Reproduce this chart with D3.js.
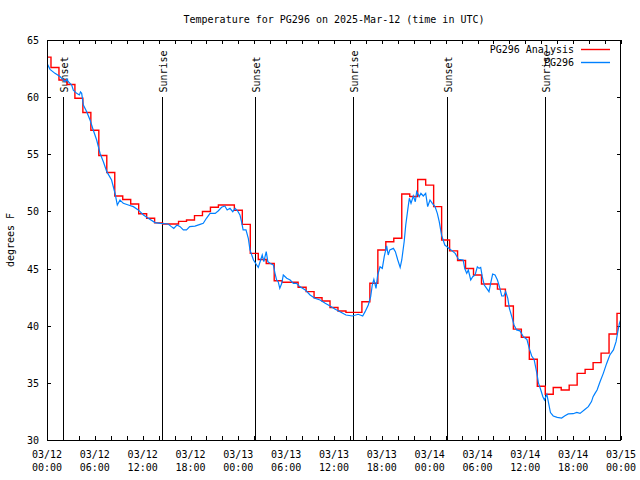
<!DOCTYPE html>
<html>
<head>
<meta charset="utf-8">
<script src="https://cdn.jsdelivr.net/npm/d3@7"></script>
<style>
  html, body { margin: 0; padding: 0; background: #fff; }
  svg { display: block; }
  text { font-family: "DejaVu Sans Mono", monospace; font-size: 10px; fill: #000; }
</style>
</head>
<body>
<svg id="chart" width="640" height="480"></svg>
<script>
// ---------------- DATA ----------------
const titleText = "Temperature for PG296 on 2025-Mar-12 (time in UTC)";
const yLabelText = "degrees F";
const seriesNames = ["PG296 Analysis", "PG296"];

// hours since 2025-03-12 00:00 UTC
const xTickHours = [0, 6, 12, 18, 24, 30, 36, 42, 48, 54, 60, 66, 72];
const xTickDates = ["03/12","03/12","03/12","03/12","03/13","03/13","03/13","03/13","03/14","03/14","03/14","03/14","03/15"];
const xTickTimes = ["00:00","06:00","12:00","18:00","00:00","06:00","12:00","18:00","00:00","06:00","12:00","18:00","00:00"];
const xMinorHours = [2,4,8,10,14,16,20,22,26,28,32,34,38,40,44,46,50,52,56,58,62,64,68,70];
const yTicks = [30, 35, 40, 45, 50, 55, 60, 65];

const sunHours = [2.05, 14.47, 26.13, 38.42, 50.22, 62.5];
const sunLabels = ["Sunset","Sunrise","Sunset","Sunrise","Sunset","Sunrise"];

// hourly analysis (one value per hour, 0..72)
const analysisHours = [0,1,2,3,4,5,6,7,8,9,10,11,12,13,14,15,16,17,18,19,20,21,22,23,24,
  25,26,27,28,29,30,31,32,33,34,35,36,37,38,39,40,41,42,43,44,45,46,47,48,
  49,50,51,52,53,54,55,56,57,58,59,60,61,62,63,64,65,66,67,68,69,70,71,72];
const analysisTemps = [63.5,62.6,61.5,61.1,59.9,58.65,57.1,54.9,53.4,51.35,51.05,50.65,49.8,49.4,
  49.0,48.9,48.9,49.13,49.25,49.63,50.0,50.36,50.56,50.56,50.1,
  48.87,46.33,45.8,45.45,43.94,43.8,43.8,43.36,42.98,42.45,42.16,41.6,41.29,41.17,41.17,42.1,
  43.71,46.63,47.35,47.65,51.53,51.3,52.8,52.3,
  50.42,47.5,46.55,45.7,45.0,44.44,43.65,43.65,43.2,41.73,39.7,38.99,37.06,34.7,34.0,34.6,34.38,34.8,
  35.83,36.18,36.77,37.6,39.28,41.08];

// observations
const obsHours = [0,0.38,1.0,1.63,1.97,2.26,2.5,2.67,3.1,3.3,3.72,4.06,4.2,4.35,4.56,4.98,5.4,5.8,6.23,6.65,
  7.07,7.5,8.1,8.53,8.82,9.16,9.57,10.2,10.83,11.45,12.1,12.7,13.55,14.2,15.2,15.6,15.9,16.3,16.7,17.1,
  17.5,17.9,18.56,19.2,19.6,20.0,20.45,21.1,21.5,21.9,22.3,22.6,22.95,23.3,23.6,23.9,24.2,24.4,24.6,24.96,
  25.25,25.46,25.9,26.3,26.5,26.8,27.0,27.2,27.5,27.7,27.97,28.4,28.6,28.8,29.0,29.2,29.45,29.64,30.07,30.5,
  30.9,31.3,31.7,32.4,33.0,33.6,34.25,34.9,35.5,36.1,36.75,37.5,38.3,39.05,39.6,39.9,40.3,40.6,40.8,41.0,
  41.27,41.48,41.77,42.06,42.3,42.6,42.8,43.0,43.45,43.7,44.0,44.3,44.5,44.8,45.0,45.25,45.45,45.66,45.95,46.2,
  46.37,46.7,46.9,47.2,47.5,47.75,48.04,48.33,48.67,48.96,49.2,49.5,49.9,50.55,51.2,51.6,52.2,52.4,52.65,52.85,
  53.15,53.4,53.7,53.98,54.2,54.4,54.6,54.85,55.15,55.44,55.65,55.9,56.2,56.5,56.75,57.04,57.3,57.54,57.8,58.0,
  58.3,58.58,58.9,59.33,59.75,60.2,60.5,60.8,61.1,61.43,61.64,61.93,62.2,62.4,62.7,62.9,63.15,63.5,64.0,64.55,
  64.97,65.38,66.0,66.45,66.86,67.5,67.9,68.3,68.5,68.74,69.0,69.37,69.78,70.2,70.6,71.05,71.38,71.6,71.8,72.0];
const obsTemps = [62.96,62.43,62.08,61.8,61.56,61.35,61.6,61.35,61.06,60.6,60.33,60.19,60.45,60.33,59.31,58.73,58.0,57.13,56.25,55.09,
  54.35,53.48,52.75,51.59,50.56,51.0,50.71,50.56,50.42,50.13,49.69,49.4,49.02,48.96,48.9,48.67,48.52,48.81,48.67,48.38,
  48.38,48.67,48.72,48.87,48.96,49.4,49.83,49.83,50.06,50.36,50.47,50.13,50.27,49.98,50.27,50.06,49.69,49.1,48.38,48.38,
  47.65,46.63,45.75,45.31,45.1,45.75,46.19,45.6,46.48,45.6,45.46,45.31,44.58,44.0,43.85,43.27,43.71,44.44,44.15,44.0,
  43.71,43.71,43.42,43.13,42.69,42.4,42.25,41.96,41.73,41.46,41.23,40.94,40.85,41.0,40.85,41.23,41.81,42.54,43.56,44.06,
  43.27,44.44,45.16,45.02,46.04,46.98,46.19,46.63,46.77,46.48,45.75,45.1,45.75,47.35,48.81,50.13,51.15,50.71,51.35,50.85,
  51.73,51.3,51.59,51.35,51.59,50.42,51.0,50.71,50.42,49.83,49.1,47.9,47.06,46.7,46.33,45.81,45.75,45.0,44.58,44.87,
  44.0,44.29,44.44,45.16,45.02,45.1,44.29,43.56,43.27,42.98,43.71,44.52,44.44,44.0,43.42,42.6,42.6,42.98,42.4,41.52,
  40.79,40.06,39.63,39.55,39.04,38.8,38.0,37.35,37.05,35.9,35.0,34.4,33.79,33.5,34.0,33.3,32.4,32.1,31.98,31.92,
  32.12,32.28,32.3,32.42,32.33,32.69,32.92,33.36,33.79,34.08,34.38,35.1,35.83,36.7,37.44,37.88,38.6,39.48,40.21,40.6];

// ---------------- CHART ----------------
const L = 47, R = 621, T = 40, B = 440;
const svg = d3.select("#chart");
const x = d3.scaleLinear().domain([0, 72]).range([L, R]);
const y = d3.scaleLinear().domain([30, 65]).range([B, T]);

const red = "#ff0000", blue = "#0080ff";

// title
svg.append("text").attr("x", (L + R) / 2).attr("y", 23).attr("text-anchor", "middle").text(titleText);

// y label
svg.append("text").attr("transform", `translate(14,${(T + B) / 2}) rotate(-90)`)
  .attr("text-anchor", "middle").text(yLabelText);

// ticks via axes (inward)
const gAx = svg.append("g").attr("shape-rendering", "crispEdges");
const allX = xTickHours.concat(xMinorHours);
gAx.append("g").attr("transform", `translate(0,${B})`)
  .call(d3.axisBottom(x).tickValues(allX).tickSize(-4).tickFormat(""));
gAx.append("g").attr("transform", `translate(0,${T})`)
  .call(d3.axisTop(x).tickValues(allX).tickSize(-4).tickFormat(""));
gAx.append("g").attr("transform", `translate(${L},0)`)
  .call(d3.axisLeft(y).tickValues(yTicks).tickSize(-4).tickFormat(""));
gAx.append("g").attr("transform", `translate(${R},0)`)
  .call(d3.axisRight(y).tickValues(yTicks).tickSize(-4).tickFormat(""));
gAx.selectAll(".domain").remove();
gAx.selectAll("line").attr("stroke", "#000");

// y tick labels
svg.append("g").selectAll("text").data(yTicks).join("text")
  .attr("x", L - 8).attr("y", d => y(d) + 4).attr("text-anchor", "end").text(d => d);

// x tick labels
const xl = svg.append("g").selectAll("g").data(xTickHours).join("g");
xl.append("text").attr("x", d => x(d)).attr("y", 458).attr("text-anchor", "middle")
  .text((d, i) => xTickDates[i]);
xl.append("text").attr("x", d => x(d)).attr("y", 471).attr("text-anchor", "middle")
  .text((d, i) => xTickTimes[i]);

// sunrise/sunset lines
const sun = svg.append("g");
sun.selectAll("line").data(sunHours).join("line")
  .attr("x1", d => Math.round(x(d)) + 0.5).attr("x2", d => Math.round(x(d)) + 0.5)
  .attr("y1", y(30)).attr("y2", y(60))
  .attr("stroke", "#000").attr("stroke-width", 1.2).attr("shape-rendering", "crispEdges");
sun.selectAll("text").data(sunHours).join("text")
  .attr("transform", d => `translate(${Math.round(x(d)) + 5},${y(60.4)}) rotate(-90)`)
  .attr("text-anchor", "start").text((d, i) => sunLabels[i]);

// clip
svg.append("clipPath").attr("id", "clip").append("rect")
  .attr("x", L).attr("y", T).attr("width", R - L).attr("height", B - T);

const plot = svg.append("g").attr("clip-path", "url(#clip)");

const analysis = analysisHours.map((h, i) => [h, analysisTemps[i]]);
const obs = obsHours.map((h, i) => [h, obsTemps[i]]);

plot.append("path").datum(analysis)
  .attr("d", d3.line().x(d => x(d[0])).y(d => y(d[1])).curve(d3.curveStep))
  .attr("fill", "none").attr("stroke", red).attr("stroke-width", 1.4)
  .attr("stroke-linejoin", "miter");

plot.append("path").datum(obs)
  .attr("d", d3.line().x(d => x(d[0])).y(d => y(d[1])))
  .attr("fill", "none").attr("stroke", blue).attr("stroke-width", 1.2);

// frame
svg.append("rect").attr("x", L + 0.5).attr("y", T + 0.5).attr("width", R - L - 1).attr("height", B - T)
  .attr("fill", "none").attr("stroke", "#000").attr("shape-rendering", "crispEdges");

// legend
const leg = svg.append("g");
const legColors = [red, blue];
const legY = [49.5, 62.5];
seriesNames.forEach((n, i) => {
  leg.append("text").attr("x", 574).attr("y", legY[i] + 3.5).attr("text-anchor", "end").text(n);
  leg.append("line").attr("x1", 581).attr("x2", 610).attr("y1", legY[i]).attr("y2", legY[i])
    .attr("stroke", legColors[i]).attr("stroke-width", 1.4);
});
</script>
</body>
</html>
